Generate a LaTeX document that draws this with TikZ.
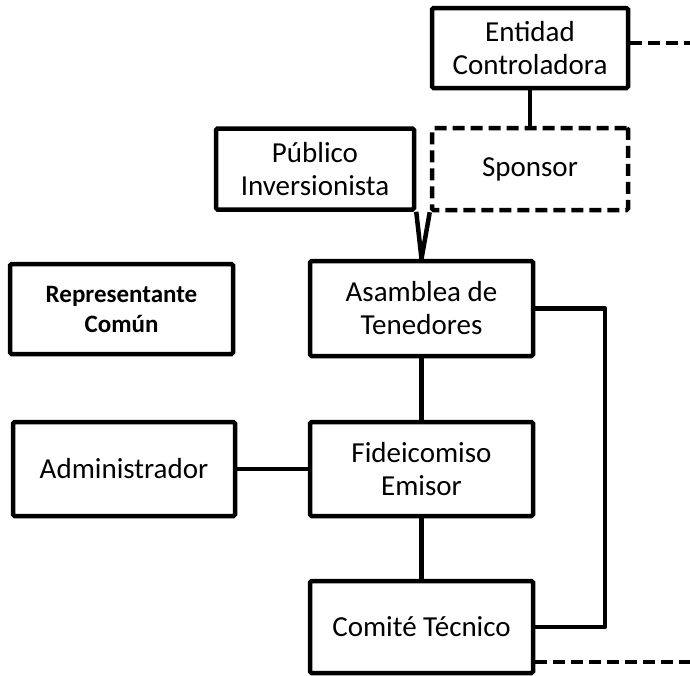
\documentclass[tikz,border=0pt]{standalone}
\usepackage{fontspec}
\setmainfont{Carlito}
\usepackage{tikz}

\begin{document}
\begin{tikzpicture}[x=1pt,y=-1pt,line width=4.5pt,
    box/.style={draw,rounded corners=1.5pt,align=center,inner sep=0pt,font=\fontsize{29}{33}\selectfont},
    dbox/.style={box,dash pattern=on 12pt off 6pt},
    dline/.style={dash pattern=on 12pt off 6pt}]
    \useasboundingbox (0,0) rectangle (690,675);
    \node[box,minimum width=196,minimum height=80] (ent) at (530,48) {Entidad\\Controladora};
    \node[dbox,minimum width=196,minimum height=82] (spon) at (530,169) {Sponsor};
    \node[box,minimum width=198,minimum height=81] (pub) at (315,169) {Público\\Inversionista};
    \node[box,minimum width=223,minimum height=90,font=\fontsize{25}{30}\selectfont\bfseries] (rep) at (121.5,309) {Representante\\Común};
    \node[box,minimum width=223,minimum height=95] (asam) at (421.5,308.5) {Asamblea de\\Tenedores};
    \node[box,minimum width=223,minimum height=94] (fid) at (421.5,469) {Fideicomiso\\Emisor};
    \node[box,minimum width=222,minimum height=94] (adm) at (124,469) {Administrador};
    \node[box,minimum width=223,minimum height=92] (com) at (421.5,627) {Comité Técnico};

    \coordinate (eR) at (690,43);
    \coordinate (cR) at (690,662);
    \coordinate (rl) at (605,0);

    \draw (ent.south) -- (spon.north);
    \draw (pub.south east) -- (asam.north);
    \draw (spon.south west) -- (asam.north);
    \draw (asam.south) -- (fid.north);
    \draw (fid.south) -- (com.north);
    \draw (adm.east) -- (fid.west);
    \draw[line join=round] (asam.east) -- (asam.east -| rl) -- (com.east -| rl) -- (com.east);
    \draw[dline] (ent.east |- eR) -- (eR);
    \draw[dline] (com.east |- cR) -- (cR);
\end{tikzpicture}
\end{document}
